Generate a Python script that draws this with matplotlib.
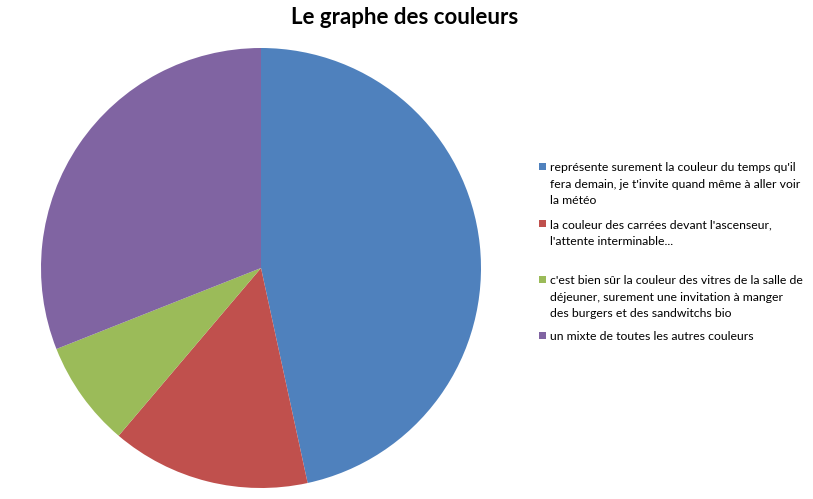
import matplotlib.pyplot as plt
from matplotlib.patches import Rectangle

plt.rcParams['font.family'] = ['Lato', 'DejaVu Sans']

# parts of the pie (in %)
labels = [
    "représente surement la couleur du temps qu'il\nfera demain, je t'invite quand même à aller voir\nla météo",
    "la couleur des carrées devant l'ascenseur,\nl'attente interminable...",
    "c'est bien sûr la couleur des vitres de la salle de\ndéjeuner, surement une invitation à manger\ndes burgers et des sandwitchs bio",
    "un mixte de toutes les autres couleurs",
]
values = [46.6, 14.6, 7.8, 31.0]
colors = ["#4F81BD", "#C0504D", "#9BBB59", "#8064A2"]

W, H = 813, 499
fig = plt.figure(figsize=(W / 100, H / 100), dpi=100)

# pie centred at (261, 268) px, radius 220 px
cx, cy, r = 261, 268, 220
ax = fig.add_axes([(cx - r) / W, (H - cy - r) / H, 2 * r / W, 2 * r / H])
ax.pie(values, colors=colors, startangle=90, counterclock=False,
       wedgeprops=dict(linewidth=0))
ax.set_xlim(-1, 1)
ax.set_ylim(-1, 1)
ax.set_aspect('equal')

fig.text(405 / W, 1 - 18 / H, "Le graphe des couleurs", ha='center', va='center',
         fontsize=16, fontweight='bold')

# legend drawn by hand, Excel style
tops = [166, 223, 279, 335]
for lab, col, y in zip(labels, colors, tops):
    fig.patches.append(Rectangle((539 / W, 1 - (y + 4) / H), 7 / W, 7 / H,
                                 transform=fig.transFigure, facecolor=col,
                                 edgecolor='none'))
    fig.text(550 / W, 1 - (y - 4) / H, lab, ha='left', va='top', fontsize=8.8,
             linespacing=1.62, color='#000000')

fig.savefig("out.png", dpi=100)
